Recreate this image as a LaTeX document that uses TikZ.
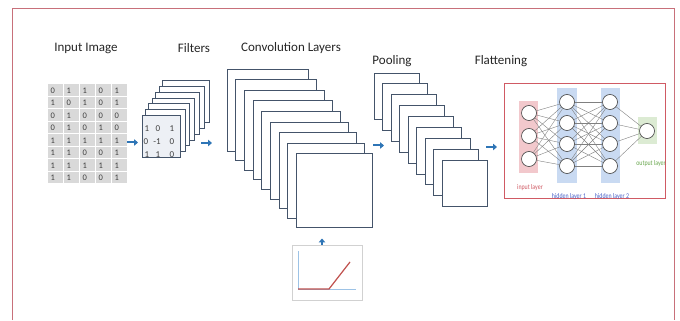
\documentclass[tikz,border=0pt]{standalone}
\usepackage{fontspec}
\setmainfont{Carlito}
\newfontfamily\narrowfont[FakeStretch=0.82]{Carlito}
\usetikzlibrary{arrows.meta}
\pgfdeclarelayer{bg}
\pgfsetlayers{bg,main}
\definecolor{framered}{HTML}{C8707A}
\definecolor{stk}{HTML}{44546A}
\definecolor{arrblue}{HTML}{2E75B6}
\definecolor{titlegray}{HTML}{262626}
\definecolor{digitgray}{HTML}{404040}
\definecolor{cellgray}{HTML}{D9D9D9}
\definecolor{filterbg}{HTML}{EDF0F5}
\definecolor{netred}{HTML}{D05A64}
\definecolor{bandred}{HTML}{F2C8CC}
\definecolor{bandblue}{HTML}{C9DAF2}
\definecolor{bandgreen}{HTML}{DCEBD3}
\definecolor{txtblue}{HTML}{4A62C8}
\definecolor{txtgreen}{HTML}{6AA84F}
\definecolor{reluline}{HTML}{C0504D}
\definecolor{axisblue}{HTML}{9DC3E6}
\tikzset{
  title/.style={font=\fontsize{13}{15}\selectfont, text=titlegray, inner sep=0pt},
  digit/.style={font=\fontsize{8.5}{9}\selectfont, text=digitgray, inner sep=0pt, anchor=west},
  fdigit/.style={font=\fontsize{9}{10}\selectfont, text=digitgray, inner sep=0pt},
  sheet/.style={draw=stk, fill=white, line width=0.8pt},
  flow/.style={arrblue, line width=2pt, -{Triangle[length=4pt,width=6.5pt]}},
  neuron/.style={circle, draw=black!75, fill=white, line width=0.6pt, minimum size=15pt, inner sep=0pt},
  syn/.style={draw=black!50, line width=0.4pt},
  netlbl/.style={font=\narrowfont\fontsize{7.2}{8}\selectfont, inner sep=0pt},
}
\begin{document}
\begin{tikzpicture}[x=1pt,y=-1pt]
\begin{pgfonlayer}{bg}
\useasboundingbox (0,0) rectangle (680,320);
\fill[white] (0,0) rectangle (680,320);
\end{pgfonlayer}
\draw[framered, line width=1pt] (12.5,320) -- (12.5,9) -- (674,9) -- (674,320);

% titles
\node[title] (t1) at (86,48) {Input Image};
\node[title] (t2) at (194,48) {Filters};
\node[title] (t3) at (291,48) {Convolution Layers};
\node[title] (t4) at (392,61) {Pooling};
\node[title] (t5) at (501,61) {Flattening};

% input grid
\foreach \row [count=\r from 0] in {{0,1,1,0,1},{1,0,1,0,1},{0,1,0,0,0},{0,1,0,1,0},{1,1,1,1,1},{1,1,0,0,1},{1,1,1,1,1},{1,1,0,0,1}} {
  \foreach \v [count=\c from 0] in \row {
    \fill[cellgray] (47.5+16*\c, 84.5+12.5*\r) rectangle ++(15,11.5);
    \node[digit] (g-\r-\c) at (50.5+16*\c, 90.3+12.5*\r) {\v};
  }
}

% filters stack
\foreach \i in {6,5,...,1} {
  \pgfmathsetmacro{\lx}{142+3.4*\i}
  \pgfmathsetmacro{\ty}{115.5-5.8*\i}
  \pgfmathsetmacro{\w}{38+1.5*\i}
  \draw[sheet] (\lx,\ty) rectangle ++(\w,42);
}
\draw[sheet, fill=filterbg] (142,115.5) rectangle (180,157.5);
\node[fdigit] (f11) at (147,129) {1};
\node[fdigit] (f12) at (158,129) {0};
\node[fdigit] (f13) at (172,129) {1};
\node[fdigit] (f21) at (146,142) {0};
\node[fdigit] (f22) at (157,142) {-1};
\node[fdigit] (f23) at (172,142) {0};
\node[fdigit] (f31) at (147,155) {1};
\node[fdigit] (f32) at (158,155) {1};
\node[fdigit] (f33) at (172,155) {0};

% convolution stack
\foreach \i in {0,...,8} {
  \pgfmathsetmacro{\lx}{227+8.65*\i}
  \pgfmathsetmacro{\ty}{69+10.6*\i}
  \pgfmathsetmacro{\w}{81.5-0.65*\i}
  \pgfmathsetmacro{\h}{82-1*\i}
  \draw[sheet] (\lx,\ty) rectangle ++(\w,\h);
}

% pooling stack
\foreach \i in {0,...,8} {
  \pgfmathsetmacro{\lx}{374+8.5*\i}
  \pgfmathsetmacro{\ty}{73+10.9*\i}
  \draw[sheet] (\lx,\ty) rectangle ++(45,46.5);
}

% arrows
\coordinate (a1s) at (127,142.5); \coordinate (a1e) at (138,142.5);
\coordinate (a2s) at (201,143);   \coordinate (a2e) at (212,143);
\coordinate (a3s) at (373,145.5); \coordinate (a3e) at (384,145.5);
\coordinate (a4s) at (486,147);   \coordinate (a4e) at (497,147);
\coordinate (a5s) at (322,249);   \coordinate (a5e) at (322,238.5);
\draw[flow] (a1s) -- (a1e);
\draw[flow] (a2s) -- (a2e);
\draw[flow] (a3s) -- (a3e);
\draw[flow] (a4s) -- (a4e);
\draw[flow] (a5s) -- (a5e);

% ReLU plot
\draw[black!18, fill=white, line width=0.5pt] (292,245) rectangle (362,300);
\draw[axisblue, line width=0.6pt] (298,251) -- (298,289) -- (356,289);
\draw[reluline, line width=1.2pt] (298,289) -- (329,289) -- (350,262);

% network
\node[neuron] (i1) at (529,113) {};
\node[neuron] (i2) at (529,136) {};
\node[neuron] (i3) at (529,159) {};
\foreach \k/\yy in {1/102,2/123,3/144,4/166} {
  \node[neuron] (h\k) at (567,\yy) {};
  \node[neuron] (k\k) at (610,\yy) {};
}
\node[neuron] (o1) at (647,131) {};

\begin{pgfonlayer}{bg}
\draw[netred, line width=0.8pt] (504,83) rectangle (665,198);
\fill[bandred] (519,101) rectangle (538,173);
\fill[bandblue] (557,88) rectangle (577,183);
\fill[bandblue] (601,88) rectangle (620,183);
\fill[bandgreen] (638,117) rectangle (657,144);
\foreach \a in {1,2,3} { \foreach \b in {1,...,4} { \draw[syn] (i\a) -- (h\b); } }
\foreach \a in {1,...,4} { \foreach \b in {1,...,4} { \draw[syn] (h\a) -- (k\b); } }
\foreach \a in {1,...,4} { \draw[syn] (k\a) -- (o1); }
\end{pgfonlayer}

\node[netlbl, text=netred] (l1) at (530,188) {input layer};
\node[netlbl, text=txtblue] (l2) at (569,197) {hidden layer 1};
\node[netlbl, text=txtblue] (l3) at (612,197) {hidden layer 2};
\node[netlbl, text=txtgreen] (l4) at (651,164) {output layer};
\end{tikzpicture}
\end{document}
